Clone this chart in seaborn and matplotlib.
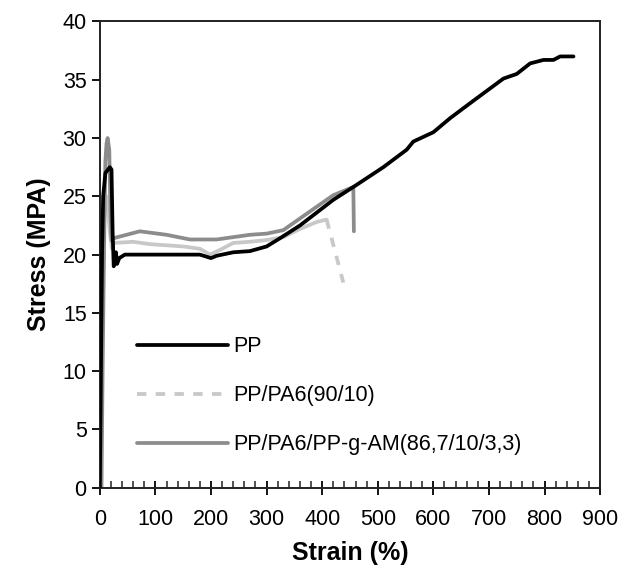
import numpy as np
import pandas as pd
import matplotlib
matplotlib.use("Agg")
import matplotlib.pyplot as plt
import seaborn as sns
from matplotlib.lines import Line2D
from matplotlib.ticker import MultipleLocator

# PP
pp_strain = [0, 2, 4, 6, 10, 18, 21, 23, 25, 27, 29, 31, 35, 45, 100, 180, 200, 210,
             240, 270, 300, 324, 360, 420, 456, 510, 552, 564, 600, 630, 672, 726,
             750, 774, 798, 816, 828, 852]
pp_stress = [0, 10, 20, 25, 27, 27.5, 27.3, 22, 19, 19.5, 20.2, 19.2, 19.7, 20, 20, 20,
             19.7, 19.9, 20.2, 20.3, 20.7, 21.4, 22.5, 24.7, 25.8, 27.5, 29, 29.7, 30.5,
             31.7, 33.2, 35.1, 35.5, 36.4, 36.7, 36.7, 37.0, 37.0]

# PP/PA6 (90/10)
pa6_strain = [0, 5, 8, 12, 18, 22, 24, 60, 90, 120, 150, 180, 198, 216, 240, 270, 300,
              330, 360, 390, 408, 438]
pa6_stress = [0, 15, 24, 25, 22, 20.5, 21, 21.1, 20.9, 20.8, 20.7, 20.5, 20.0, 20.4, 21.0,
              21.1, 21.25, 21.5, 22.2, 22.8, 23.0, 17.6]

# PP/PA6/PP-g-AM (86,7/10/3,3)
am_strain = [0, 3, 5, 8, 10, 12, 14, 17, 19, 21, 24, 72, 120, 162, 210, 240, 270, 300, 330,
             360, 390, 420, 456, 457]
am_stress = [0, 0, 10, 22, 28, 29.5, 30, 29, 24, 21.2, 21.4, 22.0, 21.7, 21.3, 21.3, 21.5,
             21.7, 21.8, 22.1, 23.1, 24.1, 25.1, 25.8, 22.0]

labels = ["PP", "PP/PA6(90/10)", "PP/PA6/PP-g-AM(86,7/10/3,3)"]
colors = ["#000000", "#c8c8c8", "#8c8c8c"]

sns.set_style("ticks")
plt.rcParams["font.family"] = ["Liberation Sans", "DejaVu Sans"]
plt.rcParams["text.color"] = "black"
plt.rcParams["axes.labelcolor"] = "black"
plt.rcParams["xtick.color"] = "black"
plt.rcParams["ytick.color"] = "black"

fig, ax = plt.subplots(figsize=(6.2, 5.8), dpi=100)
fig.subplots_adjust(left=0.161, right=0.968, top=0.963, bottom=0.159)

lw = 2.7
sns.lineplot(x=pp_strain, y=pp_stress, color=colors[0], lw=lw, sort=False,
             estimator=None, ax=ax, zorder=3)
sns.lineplot(x=pa6_strain[:-1], y=pa6_stress[:-1], color=colors[1], lw=lw, sort=False,
             estimator=None, ax=ax, zorder=2)
sns.lineplot(x=pa6_strain[-2:], y=pa6_stress[-2:], color=colors[1], lw=lw, sort=False,
             estimator=None, ax=ax, zorder=2, linestyle=(0, (2.5, 2.5)))
sns.lineplot(x=am_strain, y=am_stress, color=colors[2], lw=lw, sort=False,
             estimator=None, ax=ax, zorder=2.5)

ax.set_xlim(0, 900)
ax.set_ylim(0, 40)
ax.xaxis.set_major_locator(MultipleLocator(100))
ax.xaxis.set_minor_locator(MultipleLocator(20))
ax.yaxis.set_major_locator(MultipleLocator(5))
ax.tick_params(axis="x", which="major", direction="inout", length=10, width=1.3,
               labelsize=15.5, pad=10, colors="black")
ax.tick_params(axis="x", which="minor", direction="in", length=5, width=1.1, color="#222222")
ax.tick_params(axis="y", which="major", direction="out", length=6, width=1.3,
               labelsize=15.5, colors="black")
for s in ax.spines.values():
    s.set_visible(True)
    s.set_linewidth(1.4)
    s.set_color("#222222")

ax.set_xlabel("Strain (%)", fontsize=18, fontweight="bold", labelpad=8)
ax.set_ylabel("Stress (MPA)", fontsize=18, fontweight="bold", labelpad=8)

handles = [
    Line2D([], [], color=colors[0], lw=lw),
    Line2D([], [], color=colors[1], lw=lw, linestyle=(0, (2.5, 2.5))),
    Line2D([], [], color=colors[2], lw=lw),
]
ax.legend(handles, labels, loc="lower left", bbox_to_anchor=(0.075, 0.07),
          frameon=False, fontsize=15.5, handlelength=4.2, handletextpad=0.25,
          labelspacing=1.3, borderpad=0, borderaxespad=0)

fig.savefig("out.png", dpi=100)
